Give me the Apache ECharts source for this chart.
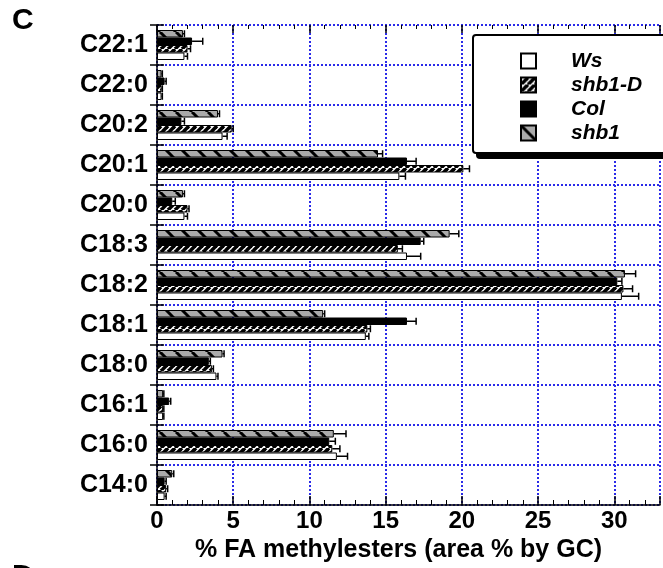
<!DOCTYPE html>
<html><head><meta charset="utf-8">
<script src="https://cdn.jsdelivr.net/npm/echarts@6/dist/echarts.min.js"></script>
<style>html,body{margin:0;padding:0;background:#fff}#c{width:663px;height:568px}</style>
</head><body><div id="c"></div>
<script>
// ---- data (top to bottom) ----
const categories = ['C22:1','C22:0','C20:2','C20:1','C20:0','C18:3','C18:2','C18:1','C18:0','C16:1','C16:0','C14:0'];
const legendOrder = ['Ws','shb1-D','Col','shb1'];
const xTickValues = [0,5,10,15,20,25,30];
const xTitle = '% FA methylesters (area % by GC)';

const ws      = [1.8, 0.3, 4.3, 15.9, 1.8, 16.4, 30.5, 13.7, 3.9, 0.4, 11.8, 0.5];
const wsErr   = [0.2, 0.05,0.3, 0.4,  0.2, 0.9,  1.1,  0.2,  0.1, 0.05,0.7,  0.1];
const shb1D   = [2.0, 0.3, 4.9, 20.1, 2.0, 15.8, 30.6, 13.8, 3.6, 0.4, 11.5, 0.6];
const shb1DErr= [0.2, 0.05,0.1, 0.4,  0.1, 0.3,  0.6,  0.2,  0.1, 0.05,0.5,  0.1];
const col     = [2.3, 0.5, 1.6, 16.4, 1.0, 17.3, 30.2, 16.4, 3.4, 0.8, 11.3, 0.5];
const colErr  = [0.7, 0.1, 0.2, 0.6,  0.2, 0.2,  0.3,  0.6,  0.1, 0.1, 0.4,  0.1];
const shb1    = [1.7, 0.3, 4.0, 14.5, 1.7, 19.2, 30.7, 10.9, 4.3, 0.4, 11.6, 1.0];
const shb1Err = [0.1, 0.05,0.1, 0.3,  0.1, 0.6,  0.7,  0.1,  0.1, 0.05,0.8,  0.1];

// ---- patterns ----
function fineHatch(){
  const c=document.createElement('canvas'); c.width=7; c.height=7;
  const g=c.getContext('2d'); g.fillStyle='#fff'; g.fillRect(0,0,7,7);
  g.strokeStyle='#000'; g.lineWidth=3.6;
  for(const k of [-7,0,7]){ g.beginPath(); g.moveTo(k,7); g.lineTo(k+7,0); g.stroke(); }
  return {image:c, repeat:'repeat'};
}
function wideHatch(){
  const c=document.createElement('canvas'); c.width=16; c.height=16;
  const g=c.getContext('2d'); g.fillStyle='#aaaaaa'; g.fillRect(0,0,16,16);
  g.strokeStyle='#000'; g.lineWidth=3;
  for(const k of [-16,0,16]){ g.beginPath(); g.moveTo(k,0); g.lineTo(k+16,16); g.stroke(); }
  return {image:c, repeat:'repeat'};
}

const BW = 7.5;
// drawing order top->bottom within a category
const groups = [
  {name:'shb1',   vals:shb1,  errs:shb1Err,  color:wideHatch()},
  {name:'Col',    vals:col,   errs:colErr,   color:'#000'},
  {name:'shb1-D', vals:shb1D, errs:shb1DErr, color:fineHatch()},
  {name:'Ws',     vals:ws,    errs:wsErr,    color:'#fff'}
];

const errData=[];
groups.forEach((s,si)=>s.vals.forEach((v,ci)=>errData.push([v,ci,s.errs[ci],si])));

const FONT='Liberation Sans, Arial, Helvetica, sans-serif';
const blueDot={color:'#2a2ae8', width:2, type:[2,2]};

const series = groups.map(s=>({
  type:'bar', name:s.name, data:s.vals, barWidth:BW, barGap:'0%',
  xAxisIndex:0, yAxisIndex:0, z:2,
  itemStyle:{color:s.color, borderColor:'#000', borderWidth:1}
}));
series.push({
  type:'custom', data:errData, xAxisIndex:0, yAxisIndex:0, z:3, silent:true,
  encode:{x:0,y:1},
  renderItem(params, api){
    const v=api.value(0), ci=api.value(1), e=api.value(2), si=api.value(3);
    const p0=api.coord([v,ci]), p1=api.coord([v+e,ci]);
    const y=p0[1]-2*BW+si*BW+BW/2;
    const h=3.5;
    return {type:'group', children:[
      {type:'line', shape:{x1:p0[0],y1:y,x2:p1[0],y2:y}, style:{stroke:'#000', lineWidth:1.5}},
      {type:'line', shape:{x1:p1[0],y1:y-h,x2:p1[0],y2:y+h}, style:{stroke:'#000', lineWidth:1.5}}
    ]};
  }
});

const chart=echarts.init(document.getElementById('c'),null,{renderer:'canvas'});
chart.setOption({
  animation:false,
  backgroundColor:'#fff',
  grid:{left:157, right:3, top:25, bottom:63, containLabel:false},
  xAxis:[
    {type:'value', position:'bottom', min:0, max:33, interval:5,
     axisLine:{show:true, lineStyle:{color:'#000', width:1.5}},
     axisTick:{show:true, inside:true, length:9, lineStyle:{color:'#000', width:1.5}},
     minorTick:{show:true, splitNumber:5, length:5, lineStyle:{color:'#000', width:1}},
     axisLabel:{fontSize:24, fontWeight:'bold', color:'#000', margin:4, fontFamily:FONT, showMaxLabel:false,
       formatter:v=>xTickValues.includes(v)?String(v):''},
     splitLine:{show:true, lineStyle:blueDot},
     name:xTitle, nameLocation:'middle', nameGap:31,
     nameTextStyle:{fontSize:25, fontWeight:'bold', color:'#000', fontFamily:FONT, padding:[0,20,0,0]}
    },
    {type:'value', position:'top', min:0, max:33, interval:5,
     axisLine:{show:false},
     axisTick:{show:true, inside:true, length:8, lineStyle:{color:'#000', width:1.5}},
     minorTick:{show:true, splitNumber:5, length:4, lineStyle:{color:'#000', width:1}},
     axisLabel:{show:false}, splitLine:{show:false}}
  ],
  yAxis:[
    {type:'category', data:categories, inverse:true, position:'left',
     axisLine:{show:false},
     axisTick:{show:true, inside:true, length:7, lineStyle:{color:'#000', width:1.5}},
     axisLabel:{fontSize:25, fontWeight:'bold', color:'#000', margin:9, fontFamily:FONT},
     splitLine:{show:true, lineStyle:blueDot}},
    {type:'category', data:categories, inverse:true, position:'right',
     axisLine:{show:true, lineStyle:{color:'#000', width:1.5}},
     axisTick:{show:true, inside:true, length:7, lineStyle:{color:'#000', width:1.5}},
     axisLabel:{show:false}, splitLine:{show:false}}
  ],
  legend:{data:legendOrder, orient:'vertical', left:520, top:50, itemWidth:15, itemHeight:15, itemGap:2,
    padding:0, icon:'rect', z:10,
    textStyle:{fontSize:21, lineHeight:22, fontWeight:'bold', fontStyle:'italic', color:'#000', fontFamily:FONT, padding:[0,0,0,30]}},
  graphic:[
    {type:'rect', z:8, shape:{x:476, y:41, width:200, height:118, r:4}, style:{fill:'#000'}},
    {type:'rect', z:9, shape:{x:473, y:35, width:200, height:118, r:3}, style:{fill:'#fff', stroke:'#000', lineWidth:2}},
    {type:'text', z:10, left:12, top:6, style:{text:'C', font:'bold 30px '+FONT, fill:'#000'}},
    {type:'text', z:10, left:12, top:562, style:{text:'D', font:'bold 30px '+FONT, fill:'#000'}}
  ],
  series
});
</script></body></html>
